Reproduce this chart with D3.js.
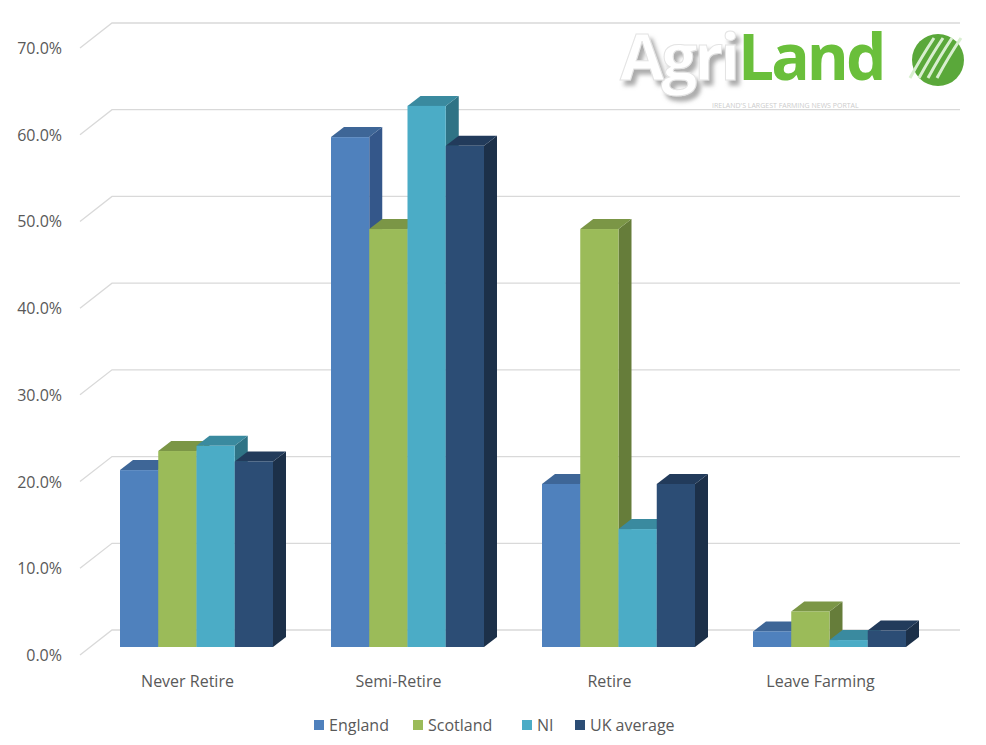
<!DOCTYPE html>
<meta charset="utf-8">
<style>
body { margin: 0; background: #fff; }
text { font-family: "Open Sans", "Noto Sans", sans-serif; fill: #595959; }
</style>
<svg width="986" height="745"></svg>
<script src="https://d3js.org/d3.v7.min.js"></script>
<script>
var categories = ["Never Retire", "Semi-Retire", "Retire", "Leave Farming"];
var seriesNames = ["England", "Scotland", "NI", "UK average"];
var england = [20.4, 58.8, 18.8, 1.8];
var scotland = [22.6, 48.2, 48.2, 4.1];
var ni = [23.2, 62.4, 13.6, 0.8];
var ukAverage = [21.4, 57.8, 18.8, 1.9];
var ticks = [0, 10, 20, 30, 40, 50, 60, 70];

var series = [england, scotland, ni, ukAverage];
var front = ["#4f81bd", "#9bbb59", "#4bacc6", "#2c4d75"];
var top_ = ["#3e6697", "#7b9646", "#3a8a9f", "#223b5b"];
var side = ["#34578a", "#667d3a", "#2f7385", "#1c3049"];

var svg = d3.select("svg");

// front plane scale, back wall offset, bar depth offset
var y = d3.scaleLinear().domain([0, 70]).range([655, 48]);
var back = {dx: 32, dy: -25}, depth = {dx: 13, dy: -10};
var yb = function(v) { return y(v) - 8; };   // bars sit slightly behind the front edge

var x = d3.scaleBand().domain(categories).range([82, 926]);
var inner = d3.scaleBand().domain(d3.range(4)).range([0, 153]);
var off = (x.bandwidth() - 153) / 2 + 9;

// gridlines
var grid = svg.append("g").attr("stroke", "#d9d9d9").attr("stroke-width", 1.3).attr("fill", "none");
ticks.forEach(function(t) {
  grid.append("path").attr("d", "M80," + y(t) + "L" + (80 + back.dx) + "," + (y(t) + back.dy) + "L960," + (y(t) + back.dy));
});

svg.append("g").selectAll("text").data(ticks).join("text")
  .attr("x", 62).attr("y", function(d) { return y(d) + 6; })
  .attr("text-anchor", "end").style("font-size", "16px")
  .text(function(d) { return d.toFixed(1) + "%"; });

// bars
categories.forEach(function(c, ci) {
  series.forEach(function(s, si) {
    var x0 = x(c) + off + inner(si), w = inner.bandwidth(), y0 = yb(s[ci]), y1 = yb(0);
    var g = svg.append("g");
    g.append("path").attr("fill", side[si])
      .attr("d", "M" + (x0 + w) + "," + y0 + "l" + depth.dx + "," + depth.dy + "L" + (x0 + w + depth.dx) + "," + (y1 + depth.dy) + "L" + (x0 + w) + "," + y1 + "Z");
    g.append("path").attr("fill", top_[si])
      .attr("d", "M" + x0 + "," + y0 + "l" + depth.dx + "," + depth.dy + "h" + w + "l" + (-depth.dx) + "," + (-depth.dy) + "Z");
    g.append("rect").attr("fill", front[si]).attr("x", x0).attr("y", y0).attr("width", w).attr("height", y1 - y0);
  });
});

svg.append("g").selectAll("text").data(categories).join("text")
  .attr("x", function(d) { return x(d) + x.bandwidth() / 2; }).attr("y", 687)
  .attr("text-anchor", "middle").style("font-size", "16px").text(function(d) { return d; });

// legend
var legX = [314, 413, 522, 575];
var leg = svg.append("g").selectAll("g").data(seriesNames).join("g")
  .attr("transform", function(d, i) { return "translate(" + legX[i] + ",720)"; });
leg.append("rect").attr("width", 10).attr("height", 10).attr("fill", function(d, i) { return front[i]; });
leg.append("text").attr("x", 15).attr("y", 11).style("font-size", "16px").text(function(d) { return d; });

// logo
svg.append("defs").append("filter").attr("id", "sh").attr("x", "-10%").attr("y", "-10%").attr("width", "130%").attr("height", "140%")
  .append("feDropShadow").attr("dx", 4).attr("dy", 5).attr("stdDeviation", 2).attr("flood-color", "#888").attr("flood-opacity", 0.7);
var logo = svg.append("g").attr("transform", "translate(620,80)");
logo.append("text").attr("x", 0).attr("y", 0).style("font-size", "64px").style("font-weight", "bold")
  .style("fill", "#fff").style("stroke", "#e4e4e4").attr("filter", "url(#sh)").style("letter-spacing", "-3px").text("Agri");
logo.append("text").attr("x", 118).attr("y", 0).style("font-size", "64px").style("font-weight", "bold")
  .style("fill", "#6abf3b").style("letter-spacing", "-3px").text("Land");
logo.append("text").attr("x", 92).attr("y", 28).style("font-size", "7px").style("fill", "#ccc")
  .text("IRELAND'S LARGEST FARMING NEWS PORTAL");
logo.append("circle").attr("cx", 318).attr("cy", -20).attr("r", 26).attr("fill", "#5aa83a");
[-12, -3, 6, 15].forEach(function(o) {
  logo.append("path").attr("d", "M" + (302 + o) + ",-2 Q" + (314 + o) + ",-24 " + (326 + o) + ",-42")
    .attr("stroke", "#d8efcf").attr("stroke-width", 3).attr("fill", "none");
});
</script>
